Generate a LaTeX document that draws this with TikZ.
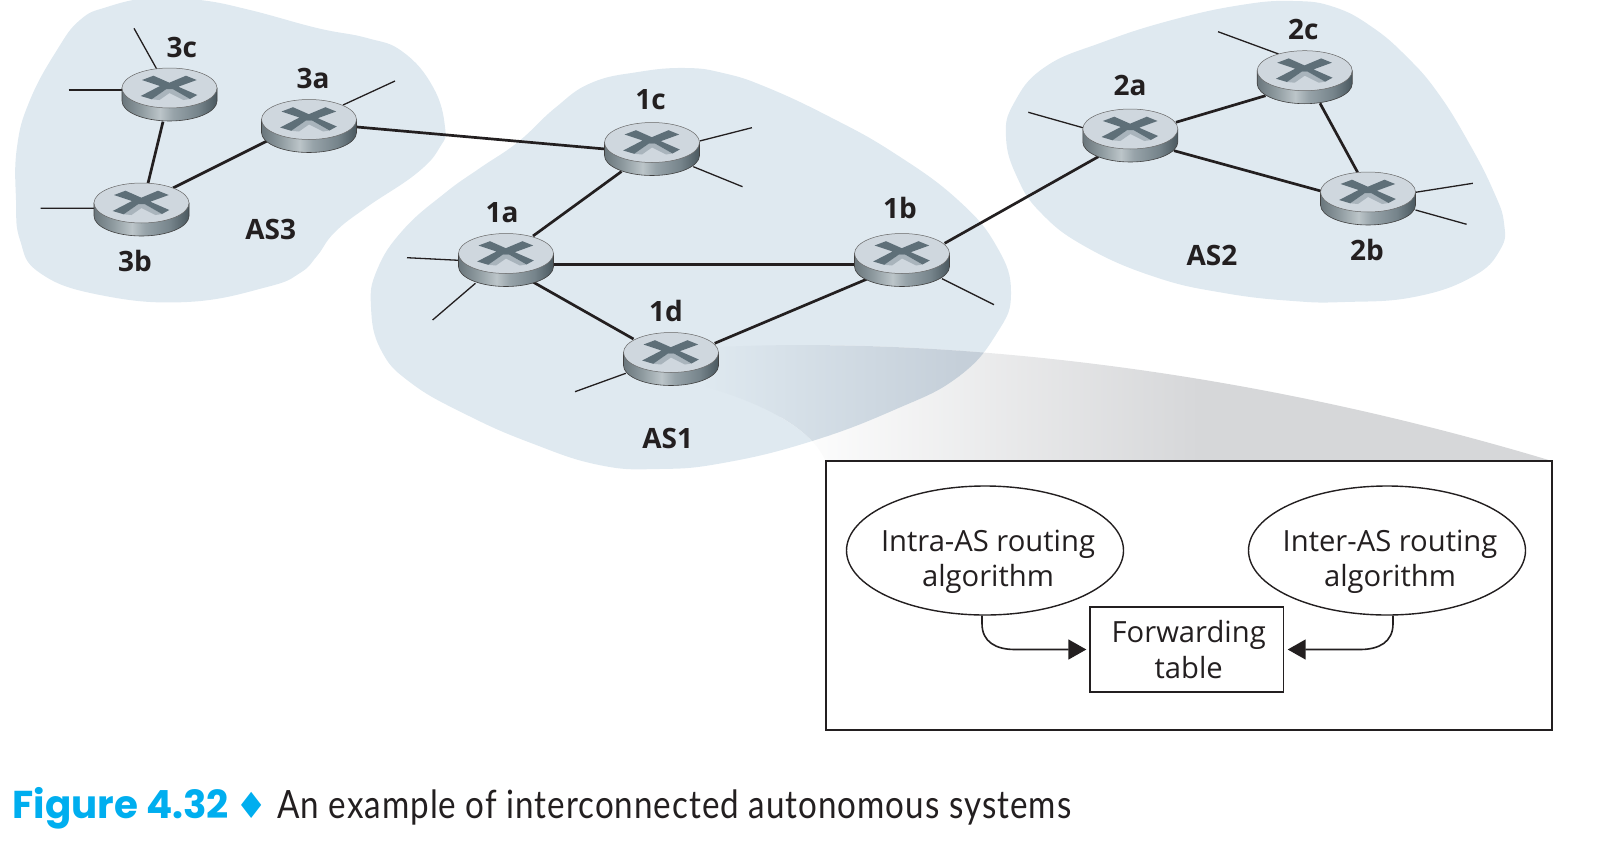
\documentclass[tikz,border=0pt]{standalone}
\usepackage{fontspec}
\usetikzlibrary{shapes.geometric,arrows.meta,calc}
\setmainfont{Open Sans}
\newfontfamily\capfont{Poppins}
\newfontfamily\bodyfont[LetterSpace=3]{Lato}
\newfontfamily\symfont{DejaVu Sans}
\definecolor{blobc}{HTML}{DFE9F0}
\definecolor{inkc}{HTML}{231F20}
\definecolor{fgrey}{HTML}{D6D7D9}
\definecolor{fblue}{HTML}{C5CFD9}
\definecolor{capblue}{HTML}{00AEEF}
\definecolor{rtop}{HTML}{CFD7DE}
\definecolor{rdark}{HTML}{5E6F78}
\definecolor{rlight}{HTML}{A9B4BC}
\definecolor{sa}{HTML}{6A767C}
\definecolor{sb}{HTML}{8F9BA0}
\definecolor{sc}{HTML}{BCC5C9}
\definecolor{sd}{HTML}{97A3A9}
\definecolor{se}{HTML}{76848B}
\definecolor{sf}{HTML}{4A585F}
\pgfdeclarehorizontalshading{routerside}{100bp}{
 color(0bp)=(sa); color(25bp)=(sa); color(35bp)=(sb); color(45bp)=(sc);
 color(52bp)=(sd); color(65bp)=(se); color(75bp)=(sf); color(100bp)=(sf)}
\newcommand\blobA{plot[smooth cycle,tension=.75] coordinates {(685,68)(638,72)(591,83)(555,108)(518,142)(480,168)(445,193)(403,230)(377,270)(371,307)(381,350)(411,383)(467,415)(531,443)(599,465)(659,469)(723,463)(809,442)(894,410)(958,377)(997,333)(1011,293)(997,247)(958,200)(894,153)(830,117)(766,87)(723,73)}}
\newcommand\blobB{plot[smooth cycle,tension=.75] coordinates {(1293,1)(1241,5)(1172,20)(1103,42)(1045,67)(1014,103)(1006,137)(1017,177)(1041,213)(1086,247)(1155,277)(1224,293)(1293,301)(1345,302)(1414,297)(1472,277)(1500,250)(1504,223)(1493,190)(1469,143)(1438,93)(1407,57)(1372,27)(1334,7)}}
\newcommand\blobC{plot[smooth cycle,tension=.75] coordinates {(150,-2)(107,7)(80,20)(57,50)(30,100)(17,147)(16,200)(20,240)(40,273)(100,295)(187,302)(267,287)(300,273)(317,256)(335,232)(367,207)(417,173)(440,147)(445,127)(433,87)(403,52)(367,38)(317,28)(250,10)(200,0)}}
\tikzset{
 rnode/.style={ellipse,minimum width=47.5pt,minimum height=26.5pt,inner sep=0pt},
 link/.style={draw=inkc,line width=1.35pt},
 stub/.style={draw=inkc,line width=.65pt},
 rlabel/.style={font=\fontsize{14}{14}\selectfont\bfseries,text=inkc,inner sep=0pt},
 btext/.style={font=\fontsize{14.6}{17.6}\selectfont,text=inkc,align=center,inner sep=0pt},
 algo/.style={ellipse,draw=inkc,line width=.7pt,minimum width=138.5pt,minimum height=64.5pt,inner sep=0pt},
 flow/.style={draw=inkc,line width=.8pt,-{Triangle[length=9pt,width=10pt]}},
 routerpic/.pic={
  \path[shading=routerside,draw=black!75,line width=.3pt] (-47.5,-7) -- (-47.5,6) .. controls (-47.5,17) and (-26.2,26) .. (0,26) .. controls (26.2,26) and (47.5,17) .. (47.5,6) -- (47.5,-7) -- cycle;
  \path[fill=rtop,draw=black!60,line width=.25pt] (0,-7) ellipse [x radius=47.5,y radius=20];
  \fill[rlight] (-3,-6) -- (3,-6) -- (20.5,4) -- (14,5) -- (0,-2) -- (-10,5) -- (-17.8,4.3) -- cycle;
  \fill[rdark] (-27.5,-15) -- (-16,-19.3) -- (-.2,-12.3) -- (16.5,-19.3) -- (27.2,-15) -- (8.8,-8.3) -- (27.8,0) -- (20.5,4) -- (3,-6) -- (-3,-6) -- (-17.8,4.3) -- (-28.8,1) -- (-9.5,-9) -- cycle;
 }
}
\begin{document}
\begin{tikzpicture}[x=.5pt,y=-.5pt]
\useasboundingbox (0,0) rectangle (1599,867);
% autonomous systems
\fill[blobc] \blobC;
\fill[blobc] \blobA;
\fill[blobc] \blobB;
% magnifier wedge
\begin{scope}
 \clip (700,348) .. controls (830,340) and (1150,340) .. (1552,461) -- (825.5,461) .. controls (810,425) and (755,400) .. (690,382) -- cycle;
 \shade[left color=white,right color=fgrey] (780,330) rectangle (1200,470);
 \fill[fgrey] (1199,330) rectangle (1560,470);
 \begin{scope}
  \clip \blobA;
  \shade[left color=blobc,right color=fblue] (700,330) rectangle (960,480);
  \fill[fblue] (959,330) rectangle (1020,480);
 \end{scope}
\end{scope}
% routers
\foreach \n/\x/\y in {3c/169.5/95,3a/309/126.5,3b/141.5/210,1c/652/149.5,1a/506/260.5,1b/902/260.5,1d/671/359.5,2a/1130.3/136,2c/1304.7/77.7,2b/1368/199}
 {\node[rnode] (\n) at (\x,\y) {};}
% free ends
\coordinate (e3c1) at (134,28.3);
\coordinate (e3c2) at (68.7,90);
\coordinate (e3a1) at (395,81);
\coordinate (e3b1) at (40.7,208.3);
\coordinate (e1c1) at (751.9,127.7);
\coordinate (e1c2) at (742.5,186.7);
\coordinate (e1a1) at (407,257.7);
\coordinate (e1a2) at (432.6,320);
\coordinate (e1b1) at (994,304.7);
\coordinate (e1d1) at (575,391.7);
\coordinate (e2a1) at (1028.3,112.3);
\coordinate (e2c1) at (1218,31.7);
\coordinate (e2b1) at (1472.8,183.3);
\coordinate (e2b2) at (1466.6,224.3);
% thin stubs
\draw[stub] (e3c1) -- ($(3c)+(-12.8,-26)$);
\draw[stub] (e3c2) -- ($(3c)+(-47,-5)$);
\draw[stub] (e3a1) -- ($(3a)+(34,-21.5)$);
\draw[stub] (e3b1) -- ($(3b)+(-47,-1.7)$);
\draw[stub] (e1c1) -- ($(1c)+(47.7,-8.5)$);
\draw[stub] (e1c2) -- ($(1c)+(41.3,17.2)$);
\draw[stub] (e1a1) -- ($(1a)+(-47.3,-.2)$);
\draw[stub] (e1a2) -- ($(1a)+(-30.6,22.8)$);
\draw[stub] (e1b1) -- ($(1b)+(40,18.2)$);
\draw[stub] (e1d1) -- ($(1d)+(-45.2,13.8)$);
\draw[stub] (e2a1) -- ($(2a)+(-47.5,-8.3)$);
\draw[stub] (e2c1) -- ($(2c)+(-26.1,-23.7)$);
\draw[stub] (e2b1) -- ($(2b)+(47.5,-6.7)$);
\draw[stub] (e2b2) -- ($(2b)+(47.5,11)$);
% links
\draw[link] (3c) -- (3b);
\draw[link] ($(3b)+(31.5,-22)$) -- ($(3a)+(-42,14.5)$);
\draw[link] ($(3a)+(48,.5)$) -- ($(1c)+(-47,-.5)$);
\draw[link] ($(1c)+(-30.5,22)$) -- ($(1a)+(27,-24.5)$);
\draw[link] ($(1a)+(47,3.8)$) -- ($(1b)+(-47,3.8)$);
\draw[link] ($(1a)+(27,21.5)$) -- ($(1d)+(-37.5,-20.5)$);
\draw[link] ($(1d)+(43.7,-16.2)$) -- ($(1b)+(-35.6,18.8)$);
\draw[link] ($(1b)+(42.6,-17.2)$) -- ($(2a)+(-32,20.7)$);
\draw[link] ($(2a)+(45.6,-13.7)$) -- ($(2c)+(-39.2,18)$);
\draw[link] ($(2a)+(43.7,14.7)$) -- ($(2b)+(-47.3,-8)$);
\draw[link] ($(2c)+(15.3,25.6)$) -- ($(2b)+(-10.4,-26.7)$);
\foreach \n in {3c,3a,3b,1c,1a,1b,1d,2a,2c,2b} {\pic at (\n) {routerpic};}
% labels
\node[rlabel] (l3c) at (181.7,47.3) {3c};
\node[rlabel] (l3a) at (313,78) {3a};
\node[rlabel] (l3b) at (135,261) {3b};
\node[rlabel] (las3) at (270.7,229) {AS3};
\node[rlabel] (l1c) at (650.6,100) {1c};
\node[rlabel] (l1a) at (502,212.5) {1a};
\node[rlabel] (l1b) at (900,208) {1b};
\node[rlabel] (l1d) at (666,311) {1d};
\node[rlabel] (las1) at (667.7,438) {AS1};
\node[rlabel] (l2c) at (1303.4,29.3) {2c};
\node[rlabel] (l2a) at (1130,85.7) {2a};
\node[rlabel] (l2b) at (1367,250) {2b};
\node[rlabel] (las2) at (1212,255.7) {AS2};
% inset
\node[draw=inkc,line width=1pt,fill=white,minimum width=363.25pt,minimum height=134.8pt,inner sep=0pt] (inset) at (1188.75,595.6) {};
\node[algo] (intra) at (985,550.5) {};
\node[algo] (inter) at (1387,550.5) {};
\node[btext] (intratxt) at (988,562) {Intra-AS routing\\algorithm};
\node[btext] (intertxt) at (1390,562) {Inter-AS routing\\algorithm};
\node[btext,draw=inkc,line width=.7pt,minimum width=96.7pt,minimum height=42.5pt] (fwd) at (1186.7,649.5) {\hspace*{2pt}Forwarding\\\hspace*{2pt}table};
\draw[flow] ($(intra.south)+(-3,0)$) -- ++(0,8) .. controls (982,642) and (996,649.5) .. (1015,649.5) -- ($(fwd.west)+(-3,0)$);
\draw[flow] ($(inter.south)+(6,0)$) -- ++(0,8) .. controls (1393,642) and (1379,649.5) .. (1360,649.5) -- ($(fwd.east)+(3.6,0)$);
% caption
\node[anchor=base west,inner sep=0pt,text=capblue,font=\capfont\bfseries\fontsize{19.4}{19.4}\selectfont] (capa) at (12,818) {Figure 4.32};
\node[anchor=base,inner sep=0pt,text=capblue,font=\symfont\fontsize{18}{18}\selectfont] (capb) at (251.5,818) {♦};
\node[anchor=base west,inner sep=0pt,text=inkc,font=\bodyfont\fontsize{19.5}{19.5}\selectfont] (capc) at (277,818) {\scalebox{.851}[1]{An example of interconnected autonomous systems}};
\end{tikzpicture}
\end{document}
